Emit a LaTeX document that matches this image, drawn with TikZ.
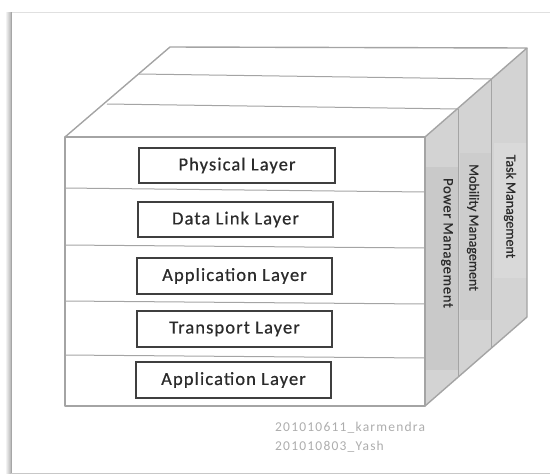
\documentclass[tikz,border=0pt]{standalone}
\usepackage{fontspec}
\newfontfamily\calfont{Carlito}
\newfontfamily\calheavy{Carlito}[FakeBold=0.6]
\definecolor{cubeline}{HTML}{A4A4A4}
\definecolor{sidefill}{HTML}{D3D3D3}
\definecolor{powerfill}{HTML}{C9C9C9}
\definecolor{mobfill}{HTML}{CDCDCD}
\definecolor{taskfill}{HTML}{D9D9D9}
\definecolor{boxline}{HTML}{3F3F3F}
\definecolor{textdark}{HTML}{2B2B2B}
\definecolor{footgray}{HTML}{ADADAD}
\tikzset{
  layerbox/.style={draw=boxline, line width=1.3pt, fill=white, minimum width=195pt, minimum height=35pt, inner sep=0pt,
    font=\calheavy\fontsize{18.5}{20}\selectfont\addfontfeature{LetterSpace=6}, text=textdark},
  sidetext/.style={rotate=-90, inner sep=0pt, text=textdark, font=\calheavy\fontsize{14}{16}\selectfont},
  cubeedge/.style={draw=cubeline, line width=1.4pt, line join=round},
  thinedge/.style={draw=cubeline, line width=1pt},
  foottext/.style={text=footgray, inner sep=0pt, anchor=west, font=\calfont\fontsize{13.5}{16}\selectfont\addfontfeature{LetterSpace=9}}
}
\begin{document}
\begin{tikzpicture}[x=1pt,y=-1pt]
\useasboundingbox (0,0) rectangle (550,475);
% outer frame with shadow
\shade[left color=white, right color=black!30] (5,12) rectangle (11,473);
\draw[black!12, line width=1pt] (11,12) -- (552,12);
\draw[black!22, line width=1pt] (11,473) -- (552,473);
\draw[black!35, line width=1pt] (11,12) -- (11,473);
% side face
\fill[sidefill] (425,137) -- (527,48) -- (527,317) -- (425,406) -- cycle;
\fill[powerfill] (425,167) rectangle (458,370);
\fill[mobfill] (460,153) rectangle (492,320);
\fill[taskfill] (494,143) rectangle (527,278);
\draw[thinedge] (458,109) -- (458,377);
\draw[thinedge] (491,79) -- (491,348);
% top face
\fill[white] (65,137) -- (170,47) -- (527,48) -- (425,137) -- cycle;
\draw[thinedge] (139,74) -- (491,79);
\draw[thinedge] (107,104) -- (458,109);
% front face lines
\draw[thinedge] (65,188) -- (425,192);
\draw[thinedge] (65,245) -- (425,248);
\draw[thinedge] (65,301) -- (425,304);
\draw[thinedge] (65,355) -- (425,358);
% outlines
\draw[cubeedge] (65,137) rectangle (425,406);
\draw[cubeedge] (65,137) -- (170,47) -- (527,48) -- (425,137);
\draw[cubeedge] (527,48) -- (527,317) -- (425,406);
% layer boxes
\node[layerbox, minimum width=196pt] (phys) at (237,165.5) {Physical Layer};
\node[layerbox] (dlink) at (235.5,219.5) {Data Link Layer};
\node[layerbox, minimum height=36pt] (app1) at (234.5,276) {Application Layer};
\node[layerbox, minimum height=36pt] (trans) at (234.5,329) {Transport Layer};
\node[layerbox, minimum height=36pt] (app2) at (233.5,380) {Application Layer};
% side labels
\node[sidetext, font=\calheavy\fontsize{14.5}{16}\selectfont\addfontfeature{LetterSpace=5}] (power) at (447,243) {Power Management};
\node[sidetext] (mob) at (473,227.5) {Mobility Management};
\node[sidetext] (task) at (510,206.5) {Task Management};
% footer
\node[foottext] (sid1) at (275,428) {201010611\_karmendra};
\node[foottext] (sid2) at (275,447) {201010803\_Yash};
\end{tikzpicture}
\end{document}
